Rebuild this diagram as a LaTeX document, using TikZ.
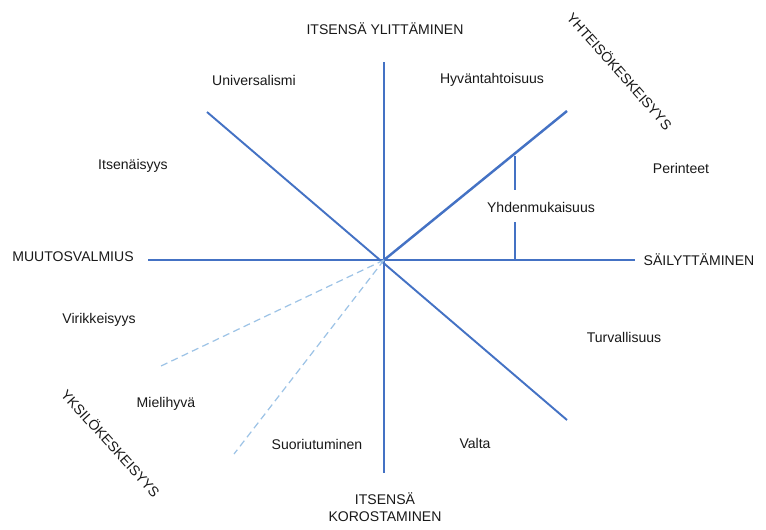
\documentclass[tikz,border=0pt]{standalone}
\usepackage{fontspec}
\setmainfont{Liberation Sans}
\usepackage{tikz}
\usetikzlibrary{positioning}
\definecolor{axisblue}{HTML}{4472C4}
\definecolor{dashblue}{HTML}{9DC3E6}

\begin{document}
\begin{tikzpicture}[x=0.02cm, y=-0.02cm, font=\fontsize{8}{9.6}\selectfont,
        axis/.style={draw=axisblue, line width=1.1pt},
        guide/.style={draw=dashblue, line width=0.7pt, dash pattern=on 4pt off 2.5pt},
        label/.style={inner sep=1pt, align=center, text=black!90}]
    \useasboundingbox (0,0) rectangle (766,529);
        \coordinate (c) at (384,260);
        \coordinate (top) at (384,62);
        \coordinate (bottom) at (384,473);
        \coordinate (left) at (148,260);
        \coordinate (right) at (635,260);
        \coordinate (nw) at (207,112);
        \coordinate (se) at (567,420);
        \coordinate (ne) at (567,111);
        \coordinate (dl) at (161,366);
        \coordinate (dm) at (234,454);
        \coordinate (b1) at (515,156);
        \coordinate (b2) at (515,190);
        \coordinate (b3) at (515,222);
        \coordinate (b4) at (515,260);

        \node [label] (ylit) at (385,29) {ITSENSÄ YLITTÄMINEN};
        \node [label] (kor) at (385,507) {ITSENSÄ\\KOROSTAMINEN};
        \node [label] (muut) at (73,257) {MUUTOSVALMIUS};
        \node [label] (sail) at (699,260) {SÄILYTTÄMINEN};
        \node [label, rotate=-48.5] (yht) at (620,71) {YHTEISÖKESKEISYYS};
        \node [label, rotate=-48] (yks) at (111,443) {YKSILÖKESKEISYYS};

        \node [label] (univ) at (254,80) {Universalismi};
        \node [label] (hyv) at (492,80) {Hyväntahtoisuus};
        \node [label] (per) at (681,168) {Perinteet};
        \node [label] (its) at (133,166) {Itsenäisyys};
        \node [label] (yhd) at (541,207) {Yhdenmukaisuus};
        \node [label] (vir) at (99,320) {Virikkeisyys};
        \node [label] (turv) at (624,337) {Turvallisuus};
        \node [label] (miel) at (166,404) {Mielihyvä};
        \node [label] (suor) at (317,444) {Suoriutuminen};
        \node [label] (valta) at (475,443) {Valta};

    \draw [axis] (top) -- (bottom);
    \draw [axis] (left) -- (right);
    \draw [axis] (nw) -- (se);
    \draw [axis, line width=1.4pt] (c) -- (ne);
    \draw [guide] (c) -- (dl);
    \draw [guide] (c) -- (dm);
    \draw [axis, line width=0.8pt]
        (b1) -- (b2)
        (b3) -- (b4);
\end{tikzpicture}
\end{document}
